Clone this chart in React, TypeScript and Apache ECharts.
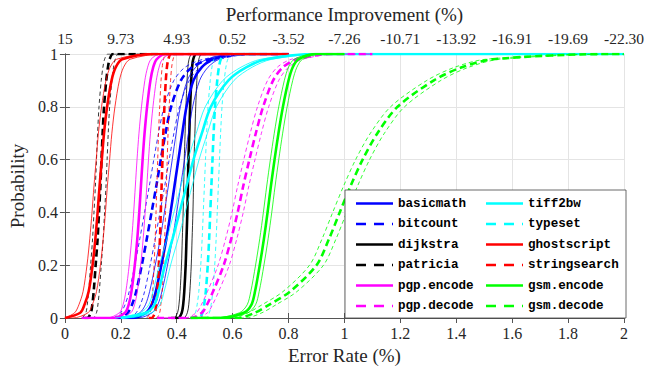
import { useEffect, useRef } from "react";
import * as echarts from "echarts";

// Cumulative probability levels at which each curve's error rate was read
const probLevels = [0, 0.02, 0.05, 0.1, 0.2, 0.3, 0.4, 0.5, 0.6, 0.7, 0.8, 0.9, 0.95, 0.98, 1];

// Error rate (%) at each probability level (central estimate)
const basicmathX = [0.24, 0.29, 0.31, 0.325, 0.345, 0.363, 0.378, 0.392, 0.406, 0.42, 0.435, 0.46, 0.49, 0.53, 0.62];
const bitcountX = [0.2, 0.225, 0.24, 0.255, 0.275, 0.293, 0.31, 0.327, 0.343, 0.36, 0.38, 0.415, 0.455, 0.52, 0.65];
const dijkstraX = [0.405, 0.418, 0.423, 0.427, 0.432, 0.435, 0.438, 0.44, 0.442, 0.445, 0.448, 0.452, 0.455, 0.459, 0.47];
const patriciaX = [0.08, 0.093, 0.098, 0.103, 0.11, 0.117, 0.122, 0.127, 0.131, 0.135, 0.14, 0.148, 0.154, 0.16, 0.172];
const pgpEncodeX = [0.17, 0.215, 0.228, 0.238, 0.25, 0.259, 0.266, 0.272, 0.278, 0.285, 0.294, 0.306, 0.316, 0.328, 0.36];
const pgpDecodeX = [0.45, 0.49, 0.508, 0.53, 0.568, 0.595, 0.618, 0.638, 0.66, 0.683, 0.709, 0.745, 0.78, 0.83, 0.95];
const tiff2bwX = [0.2, 0.29, 0.32, 0.335, 0.358, 0.385, 0.41, 0.435, 0.46, 0.49, 0.522, 0.585, 0.65, 0.72, 0.9];
const typesetX = [0.48, 0.492, 0.498, 0.504, 0.511, 0.516, 0.52, 0.524, 0.528, 0.532, 0.537, 0.545, 0.551, 0.558, 0.575];
const ghostscriptX = [0.0, 0.055, 0.07, 0.085, 0.099, 0.109, 0.117, 0.124, 0.132, 0.14, 0.151, 0.167, 0.182, 0.205, 0.32];
const stringsearchX = [0.31, 0.322, 0.326, 0.331, 0.336, 0.34, 0.343, 0.346, 0.349, 0.352, 0.356, 0.361, 0.365, 0.37, 0.38];
const gsmEncodeX = [0.55, 0.64, 0.667, 0.68, 0.697, 0.712, 0.725, 0.737, 0.75, 0.764, 0.78, 0.8, 0.815, 0.835, 0.9];
const gsmDecodeX = [0.62, 0.68, 0.73, 0.805, 0.9, 0.945, 0.983, 1.022, 1.065, 1.118, 1.19, 1.32, 1.42, 1.53, 1.95];

// Horizontal offset of the thin lower / upper bound curves from the central curve
const lowerBand = [-0.022, -0.025, -0.015, -0.018, -0.02, -0.02, -0.02, -0.025, -0.02, -0.017, -0.015, -0.025];
const upperBand = [0.022, 0.03, 0.02, 0.02, 0.021, 0.02, 0.02, 0.025, 0.028, 0.017, 0.015, 0.025];
// Where each curve's flat parts begin (P = 0) and end (P = 1)
const spanStart = [0.2, 0.18, 0.38, 0.07, 0.06, 0.33, 0.2, 0.45, 0.0, 0.3, 0.45, 0.45];
const spanEnd = [0.8, 0.8, 0.6, 0.4, 0.6, 1.1, 2.0, 0.7, 0.8, 0.6, 1.0, 2.0];

const names = ["basicmath", "bitcount", "dijkstra", "patricia", "pgp.encode", "pgp.decode", "tiff2bw", "typeset", "ghostscript", "stringsearch", "gsm.encode", "gsm.decode"];
const values = [basicmathX, bitcountX, dijkstraX, patriciaX, pgpEncodeX, pgpDecodeX, tiff2bwX, typesetX, ghostscriptX, stringsearchX, gsmEncodeX, gsmDecodeX];
const colors = ["#0000ff", "#0000ff", "#000000", "#000000", "#ff00ff", "#ff00ff", "#00ffff", "#00ffff", "#ff0000", "#ff0000", "#00ff00", "#00ff00"];
const dashed = [false, true, false, true, false, true, false, true, false, true, false, true];
const drawOrder = ["dijkstra", "patricia", "basicmath", "bitcount", "stringsearch", "typeset", "pgp.encode", "ghostscript", "tiff2bw", "pgp.decode", "gsm.encode", "gsm.decode"];

const legendLeft = ["basicmath", "bitcount", "dijkstra", "patricia", "pgp.encode", "pgp.decode"];
const legendRight = ["tiff2bw", "typeset", "ghostscript", "stringsearch", "gsm.encode", "gsm.decode"];

const perfLabels = ["15", "9.73", "4.93", "0.52", "-3.52", "-7.26", "-10.71", "-13.92", "-16.91", "-19.69", "-22.30"];

const SERIF = "'Liberation Serif', 'DejaVu Serif', serif";
const MONO = "'Liberation Mono', 'DejaVu Sans Mono', monospace";
const AXIS_COLOR = "#555555";
const TEXT_COLOR = "#262626";

function buildPoints(xs: number[], off: number, s0: number, s1: number) {
  const clamp = (v: number) => Math.max(0, Math.min(2, v));
  const pts: number[][] = [];
  pts.push([clamp(Math.min(s0, xs[0] + off)), 0]);
  xs.forEach((x, i) => pts.push([clamp(x + off), probLevels[i]]));
  pts.push([clamp(Math.max(s1, xs[xs.length - 1] + off)), 1]);
  return pts;
}

function buildSeries() {
  const out: any[] = [];
  drawOrder.forEach((nm) => {
    const i = names.indexOf(nm);
    const xs = values[i];
    const thinType = dashed[i] ? [4, 3] : "solid";
    const thickType = dashed[i] ? [7, 4] : "solid";
    [lowerBand[i], upperBand[i]].forEach((off, k) => {
      out.push({
        name: nm + (k === 0 ? " lower" : " upper"),
        type: "line",
        data: buildPoints(xs, off, spanStart[i], spanEnd[i]),
        showSymbol: false,
        symbol: "none",
        smooth: 0.3,
        lineStyle: { color: colors[i], width: 0.8, type: thinType },
        itemStyle: { color: colors[i] },
        silent: true,
        z: 2,
      });
    });
    out.push({
      name: nm,
      type: "line",
      data: buildPoints(xs, 0, spanStart[i], spanEnd[i]),
      showSymbol: false,
      symbol: "none",
      smooth: 0.3,
      lineStyle: { color: colors[i], width: 2.6, type: thickType },
      itemStyle: { color: colors[i] },
      silent: true,
      z: 2,
    });
  });
  return out;
}

// Legend drawn as graphic elements (box, line samples, monospace labels)
function buildLegend() {
  const els: any[] = [
    {
      type: "rect",
      z: 4,
      shape: { x: 345, y: 190, width: 281, height: 128 },
      style: { fill: "#ffffff", stroke: "#444444", lineWidth: 0.8 },
    },
  ];
  const cols = [
    { list: legendLeft, x0: 356 },
    { list: legendRight, x0: 486 },
  ];
  cols.forEach(({ list, x0 }) => {
    list.forEach((nm, r) => {
      const i = names.indexOf(nm);
      const y = 203.5 + r * 20.5;
      els.push({
        type: "line",
        z: 5,
        shape: { x1: x0, y1: y, x2: x0 + 37, y2: y },
        style: { stroke: colors[i], lineWidth: 2.6, lineDash: dashed[i] ? [10, 8] : null },
      });
      els.push({
        type: "text",
        z: 5,
        x: x0 + 42,
        y,
        style: {
          text: nm,
          fontFamily: MONO,
          fontWeight: "bold",
          fontSize: 12.6,
          fill: "#000000",
          verticalAlign: "middle",
          align: "left",
        },
      });
    });
  });
  return els;
}

export default function App() {
  const ref = useRef<HTMLDivElement>(null);
  useEffect(() => {
    if (!ref.current) return;
    const chart = echarts.init(ref.current, undefined, { renderer: "svg" });
    const tickStyle = { inside: true, length: 5, lineStyle: { color: AXIS_COLOR, width: 1 } };
    chart.setOption({
      animation: false,
      backgroundColor: "#ffffff",
      grid: { left: 59, right: 21, top: 54, bottom: 54 },
      xAxis: [
        {
          type: "value",
          position: "bottom",
          min: 0,
          max: 2,
          interval: 0.2,
          axisLine: { show: true, lineStyle: { color: AXIS_COLOR, width: 1 } },
          axisTick: tickStyle,
          axisLabel: { fontFamily: SERIF, fontSize: 16, color: TEXT_COLOR, margin: 7 },
          splitLine: { show: true, lineStyle: { color: "#e4e4e4", width: 1 } },
          name: "Error Rate (%)",
          nameLocation: "middle",
          nameGap: 27,
          nameTextStyle: { fontFamily: SERIF, fontSize: 19, color: TEXT_COLOR },
        },
        {
          type: "value",
          position: "top",
          min: 0,
          max: 2,
          interval: 0.2,
          axisLine: { show: true, lineStyle: { color: AXIS_COLOR, width: 1 } },
          axisTick: tickStyle,
          axisLabel: {
            fontFamily: SERIF,
            fontSize: 15.5,
            color: TEXT_COLOR,
            margin: 8,
            formatter: (v: number) => perfLabels[Math.round(v / 0.2)] ?? "",
          },
          splitLine: { show: false },
          name: "Performance Improvement (%)",
          nameLocation: "middle",
          nameGap: 30,
          nameTextStyle: { fontFamily: SERIF, fontSize: 19, color: TEXT_COLOR },
        },
      ],
      yAxis: [
        {
          type: "value",
          position: "left",
          min: 0,
          max: 1,
          interval: 0.2,
          axisLine: { show: true, lineStyle: { color: AXIS_COLOR, width: 1 } },
          axisTick: tickStyle,
          axisLabel: { fontFamily: SERIF, fontSize: 16, color: TEXT_COLOR, margin: 7 },
          splitLine: { show: true, lineStyle: { color: "#e4e4e4", width: 1 } },
          name: "Probability",
          nameLocation: "middle",
          nameGap: 34,
          nameRotate: 90,
          nameTextStyle: { fontFamily: SERIF, fontSize: 19, color: TEXT_COLOR },
        },
        {
          type: "value",
          position: "right",
          min: 0,
          max: 1,
          interval: 0.2,
          axisLine: { show: true, lineStyle: { color: AXIS_COLOR, width: 1 } },
          axisTick: tickStyle,
          axisLabel: { show: false },
          splitLine: { show: false },
        },
      ],
      graphic: buildLegend(),
      series: buildSeries(),
    });
    return () => chart.dispose();
  }, []);
  return <div ref={ref} style={{ width: 647, height: 372, position: "absolute", left: 0, top: 0 }} />;
}
